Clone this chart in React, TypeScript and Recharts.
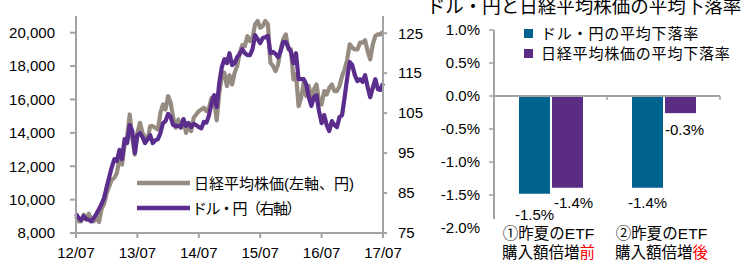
import { LineChart, Line, XAxis, YAxis, BarChart, Bar, ReferenceLine } from "recharts";

const FONT = "'Liberation Sans', Arial, 'Noto Sans CJK JP', sans-serif";
const AXIS = "#a3a3a3";
const GRAY = "#968b81";
const PURPLE = "#5b2d8c";
const BLUE = "#00628f";
const BAR_PURPLE = "#5b2c84";

// ---- left chart: Nikkei (left axis) vs USD/JPY (right axis), semi-monthly readings 2012/07 - 2017/07
const xTicks = [0, 12, 24, 36, 48, 60];
const xTickLabels = ["12/07", "13/07", "14/07", "15/07", "16/07", "17/07"];
const nikkeiTicks = [8000, 10000, 12000, 14000, 16000, 18000, 20000];
const yenTicks = [75, 85, 95, 105, 115, 125];

const nikkei = [
  9000, 8700, 8700, 9100, 8800, 9150, 8800, 8700, 8950, 8660, 9450, 9750,
  10400, 10800, 11200, 11300, 11600, 12500, 12100, 13300, 13800, 15100, 13700, 12700,
  14000, 14600, 14000, 13700, 13600, 14400, 14400, 14300, 14200, 15200, 15700, 15400,
  16200, 15800, 14900, 14300, 14800, 14300, 14800, 14000, 14450, 14100, 14900, 15100,
  15300, 15400, 15500, 15300, 15500, 16100, 16000, 14750, 16400, 17400, 17600, 16800,
  17450, 16900, 17600, 18000, 18800, 19250, 19200, 19800, 19500, 19700, 20500, 20700,
  20300, 20400, 20700, 20500, 18200, 18000, 17700, 18100, 19000, 19600, 19900, 19000,
  19000, 17200, 17500, 15600, 16100, 17000, 16200, 16800, 16000, 16600, 16900, 15900,
  15700, 16500, 16300, 16700, 16900, 16500, 16500, 16800, 17400, 17800, 18400, 19300,
  19100, 19000, 19000, 19400, 19400, 19550, 18900, 18400, 19300, 19800, 19900, 19900,
  20050,
];

const usdjpy = [
  79.8, 78.8, 78.2, 79.2, 78.5, 78.3, 77.9, 78.8, 79.8, 81.0, 82.3, 83.8,
  86.5, 89.0, 91.5, 93.5, 93.0, 95.8, 93.5, 98.5, 97.5, 102.0, 100.5, 95.0,
  99.5, 100.0, 99.0, 97.5, 98.5, 99.5, 97.5, 98.2, 98.5, 100.0, 102.5, 103.0,
  104.8, 104.0, 102.0, 101.8, 101.8, 101.5, 103.5, 101.8, 102.5, 101.5, 102.3, 102.0,
  101.5, 101.2, 102.8, 102.6, 104.5, 107.5, 109.5, 106.5, 112.5, 116.5, 118.5, 117.5,
  120.0, 117.0, 117.5, 119.0, 119.8, 121.0, 120.0, 119.5, 119.5, 121.0, 124.5, 123.5,
  122.5, 123.8, 124.0, 124.3, 120.0, 120.3, 119.8, 119.0, 120.5, 122.8, 122.8, 121.5,
  120.3, 117.5, 120.0, 113.5, 113.5, 113.5, 112.2, 109.0, 106.8, 109.0, 109.5, 105.5,
  102.5, 104.5, 102.0, 100.5, 103.0, 102.0, 101.5, 104.0, 104.5, 109.0, 113.8, 117.8,
  117.0, 114.5, 113.0, 113.5, 112.8, 114.5, 111.5, 109.0, 111.3, 113.5, 111.0, 110.8,
  112.5,
];

// months since 2012/07, two readings per month
const lineData = nikkei.map((v, i) => ({ t: i / 2, nikkei: v, usdjpy: usdjpy[i] }));

// ---- right chart: average decline rates (%)
const periodLine1 = ["①昨夏のETF", "②昨夏のETF"];
const periodLine2 = ["購入額倍増", "購入額倍増"];
const periodMark = ["前", "後"];
const yenDrop = [-1.48, -1.39];
const nikkeiDrop = [-1.39, -0.26];
const pctTicks = [1, 0.5, 0, -0.5, -1, -1.5, -2];

const barData = periodLine1.map((p, i) => ({
  name: p,
  yen: yenDrop[i],
  nikkei: nikkeiDrop[i],
}));

// label placement relative to bar bottom [dx, dy]
const yenLabelShift = [[0, 21], [0, 15]];
const nikkeiLabelShift = [[6, 15], [4, 17]];

const pct = (v: number) => `${v.toFixed(1)}%`;

const makeLabel = (shift: number[][]) => (p: any) => {
  const x = Number(p.x), y = Number(p.y), w = Number(p.width), h = Number(p.height);
  const bottom = Math.max(y, y + h);
  const [dx, dy] = shift[p.index] || [0, 15];
  return (
    <text x={x + w / 2 + dx} y={bottom + dy} dy="0.35em" textAnchor="middle" fontSize={15} fill="#000" fontFamily={FONT}>
      {pct(Number(p.value))}
    </text>
  );
};

const PctTick = (p: any) => {
  const v = p.payload.value;
  return (
    <g>
      {v !== -2 && <line x1={p.x - 5} x2={p.x} y1={p.y} y2={p.y} stroke={AXIS} strokeWidth={1.5} />}
      <text x={p.x - 14} y={p.y} dy="0.35em" textAnchor="end" fontSize={15} fill="#000" fontFamily={FONT}>
        {pct(v)}
      </text>
    </g>
  );
};

const PeriodTick = (p: any) => {
  const i = periodLine1.indexOf(p.payload.value);
  return (
    <g fontFamily={FONT} fontSize={15.5} fill="#000">
      <text x={p.x - 2} y={p.y + 10.5} textAnchor="middle">{periodLine1[i]}</text>
      <text x={p.x - 2} y={p.y + 29.5} textAnchor="middle">
        {periodLine2[i]}
        <tspan fill="#ff0000">{periodMark[i]}</tspan>
      </text>
    </g>
  );
};

export default function App() {
  const tickStyle = { fontSize: 15, fill: "#000", fontFamily: FONT };
  return (
    <div style={{ position: "absolute", left: 0, top: 0, width: 753, height: 260, background: "#fff", overflow: "hidden", fontFamily: FONT }}>
      <div style={{ position: "absolute", left: 0, top: 0 }}>
        <LineChart width={430} height={260} data={lineData} margin={{ top: 16, right: 0, bottom: 0, left: 0 }}>
          <XAxis
            dataKey="t"
            type="number"
            domain={[0, 60]}
            ticks={xTicks}
            tickFormatter={(v) => xTickLabels[xTicks.indexOf(v)]}
            height={27}
            tick={tickStyle}
            stroke={AXIS}
            strokeWidth={2}
            tickSize={5}
            tickMargin={9}
          />
          <YAxis
            yAxisId="left"
            domain={[8000, 21000]}
            ticks={nikkeiTicks}
            tickFormatter={(v) => v.toLocaleString("en-US")}
            width={76}
            tick={tickStyle}
            stroke={AXIS}
            strokeWidth={2}
            tickSize={6}
            tickMargin={15}
            allowDataOverflow
          />
          <YAxis
            yAxisId="right"
            orientation="right"
            domain={[75, 129.3]}
            ticks={yenTicks}
            width={47}
            tick={tickStyle}
            stroke={AXIS}
            strokeWidth={2}
            tickSize={4}
            tickMargin={11}
            allowDataOverflow
          />
          <Line yAxisId="left" dataKey="nikkei" stroke={GRAY} strokeWidth={4.2} dot={false} isAnimationActive={false} strokeLinejoin="round" />
          <Line yAxisId="right" dataKey="usdjpy" stroke={PURPLE} strokeWidth={4.2} dot={false} isAnimationActive={false} strokeLinejoin="round" />
        </LineChart>
      </div>

      <div style={{ position: "absolute", left: 420, top: 0 }}>
        <BarChart width={333} height={260} data={barData} margin={{ top: 30, right: 33, bottom: 0, left: 0 }} barSize={31} barGap={2}>
          <XAxis dataKey="name" height={32} axisLine={false} tickLine={false} tickSize={0} tickMargin={0} tick={<PeriodTick />} interval={0} />
          <YAxis
            domain={[-2, 1]}
            ticks={pctTicks}
            width={74}
            axisLine={false}
            tickLine={false}
            tickSize={0}
            tickMargin={0}
            tick={<PctTick />}
            interval={0}
          />
          <Bar dataKey="yen" fill={BLUE} isAnimationActive={false} label={makeLabel(yenLabelShift)} />
          <Bar dataKey="nikkei" fill={BAR_PURPLE} isAnimationActive={false} label={makeLabel(nikkeiLabelShift)} />
          <ReferenceLine y={0} stroke={AXIS} strokeWidth={2} />
        </BarChart>
      </div>

      <svg width={753} height={260} style={{ position: "absolute", left: 0, top: 0, pointerEvents: "none" }} fontFamily={FONT}>
        {/* left chart legend */}
        <line x1={137} x2={190} y1={183} y2={183} stroke={GRAY} strokeWidth={4.5} />
        <text x={194} y={188.5} fontSize={15} fill="#000">日経平均株価(左軸、円)</text>
        <line x1={137} x2={190} y1={208} y2={208} stroke={PURPLE} strokeWidth={4.5} />
        <text x={192} y={213.5} fontSize={15} fill="#000" letterSpacing={-1.5}>ドル・円（右軸）</text>

        {/* right chart title + legend */}
        <text x={584} y={13} fontSize={18.5} textAnchor="middle" fill="#000">ドル・円と日経平均株価の平均下落率</text>
        <rect x={524} y={29} width={9} height={9} fill={BLUE} />
        <text x={541} y={38.5} fontSize={15} fill="#000" letterSpacing={0.8}>ドル・円の平均下落率</text>
        <rect x={524} y={49} width={9} height={9} fill={BAR_PURPLE} />
        <text x={541} y={58.5} fontSize={15} fill="#000" letterSpacing={0.8}>日経平均株価の平均下落率</text>

        {/* right chart axis lines */}
        <line x1={494} x2={494} y1={30} y2={219} stroke={AXIS} strokeWidth={2} />
        <line x1={607} x2={607} y1={96} y2={100} stroke={AXIS} strokeWidth={1.5} />
        <line x1={720} x2={720} y1={96} y2={100} stroke={AXIS} strokeWidth={1.5} />
      </svg>
    </div>
  );
}
